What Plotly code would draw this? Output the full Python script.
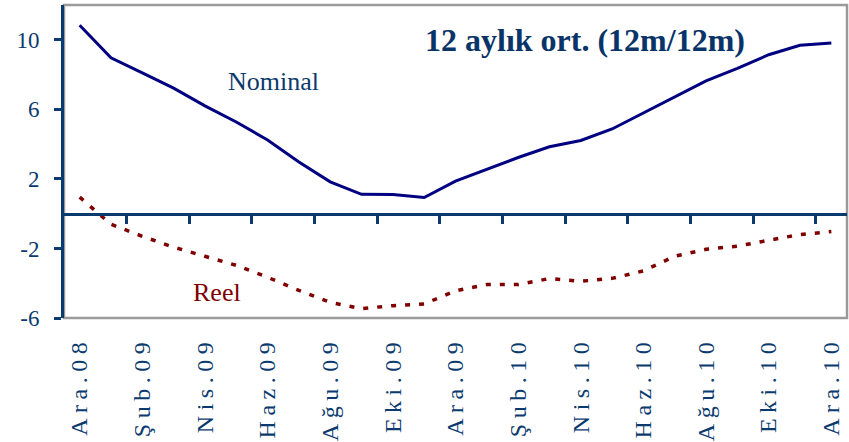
import plotly.graph_objects as go

months = ["Ara.08", "Oca.09", "Şub.09", "Mar.09", "Nis.09", "May.09", "Haz.09", "Tem.09",
          "Ağu.09", "Eyl.09", "Eki.09", "Kas.09", "Ara.09", "Oca.10", "Şub.10", "Mar.10",
          "Nis.10", "May.10", "Haz.10", "Tem.10", "Ağu.10", "Eyl.10", "Eki.10", "Kas.10", "Ara.10"]
tick_labels = months[::2]

nominal = [10.84, 8.96, 8.10, 7.22, 6.20, 5.27, 4.24, 2.97, 1.83, 1.11, 1.10, 0.93, 1.87,
           2.56, 3.23, 3.85, 4.21, 4.87, 5.79, 6.69, 7.64, 8.36, 9.14, 9.68, 9.81]
reel = [0.95, -0.61, -1.30, -1.93, -2.45, -2.97, -3.66, -4.41, -5.10, -5.46, -5.29, -5.19,
        -4.44, -4.08, -4.08, -3.73, -3.89, -3.72, -3.29, -2.45, -2.05, -1.87, -1.53, -1.20, -1.03]
y_ticks = [10, 6, 2, -2, -6]
y_tick_text = ["10", "6", "2", "-2", "-6"]

NAVY_TXT = "#0B3A6E"
AXIS = "#0B3A6E"
FONT = "Liberation Serif"

idx = list(range(len(months)))
# tick marks between categories on the zero line
between = [i + 0.5 for i in range(1, len(months) - 1, 2)]

fig = go.Figure()
fig.add_trace(go.Scatter(x=months, y=nominal, mode="lines", name="Nominal",
                         line=dict(color="#000080", width=3)))
fig.add_trace(go.Scatter(x=idx, y=reel, mode="lines", name="Reel", xaxis="x2",
                         line=dict(color="#800000", width=3.5, dash="5px,9px")))

fig.update_layout(
    width=849, height=442,
    margin=dict(l=64, r=2, t=5, b=124),
    paper_bgcolor="white", plot_bgcolor="white",
    showlegend=False,
    font=dict(family=FONT, color=NAVY_TXT),
    xaxis=dict(
        type="category", range=[-0.5, len(months) - 0.5], automargin=False,
        tickmode="array", tickvals=tick_labels, ticktext=tick_labels,
        tickangle=-90, ticks="", showline=False, showgrid=False, zeroline=False,
        tickfont=dict(family=FONT, size=24, color=NAVY_TXT),
        ticklabelstandoff=13,
    ),
    xaxis2=dict(
        overlaying="x", anchor="free", position=6 / 18, side="bottom", automargin=False,
        range=[-0.5, len(months) - 0.5], tickmode="array", tickvals=between,
        showticklabels=False, ticks="outside", ticklen=8, tickwidth=2.5, tickcolor=AXIS,
        showline=True, linecolor=AXIS, linewidth=3, showgrid=False, zeroline=False,
    ),
    yaxis=dict(
        range=[-6, 12], tickmode="array", tickvals=y_ticks, ticktext=y_tick_text,
        automargin=False,
        ticks="outside", ticklen=7, tickwidth=2.5, tickcolor=AXIS,
        showline=True, linecolor=AXIS, linewidth=3, showgrid=False, zeroline=False,
        tickfont=dict(family=FONT, size=23, color=NAVY_TXT),
        ticklabelstandoff=10,
    ),
    shapes=[dict(type="rect", xref="paper", yref="paper", x0=0, x1=1, y0=0, y1=1,
                 line=dict(color="#9A9A9A", width=2.5), layer="below")],
    annotations=[
        dict(text="<b>12 aylık ort. (12m/12m)</b>", xref="paper", yref="paper",
             x=0.666, y=0.888, xanchor="center", yanchor="middle", showarrow=False,
             font=dict(family=FONT, size=32, color="#083468")),
        dict(text="Nominal", xref="paper", yref="paper", x=0.267, y=0.754,
             xanchor="center", yanchor="middle",
             showarrow=False, font=dict(family=FONT, size=26, color=NAVY_TXT)),
        dict(text="Reel", xref="paper", yref="paper", x=0.196, y=0.08,
             xanchor="center", yanchor="middle",
             showarrow=False, font=dict(family=FONT, size=26, color="#800000")),
    ],
)

post = ("document.body.style.margin='0';"
        "document.querySelectorAll('.xtick text').forEach(function(t){t.style.letterSpacing='5.5px';});")
fig.write_html("out.html", post_script=post, config={"displayModeBar": False})
